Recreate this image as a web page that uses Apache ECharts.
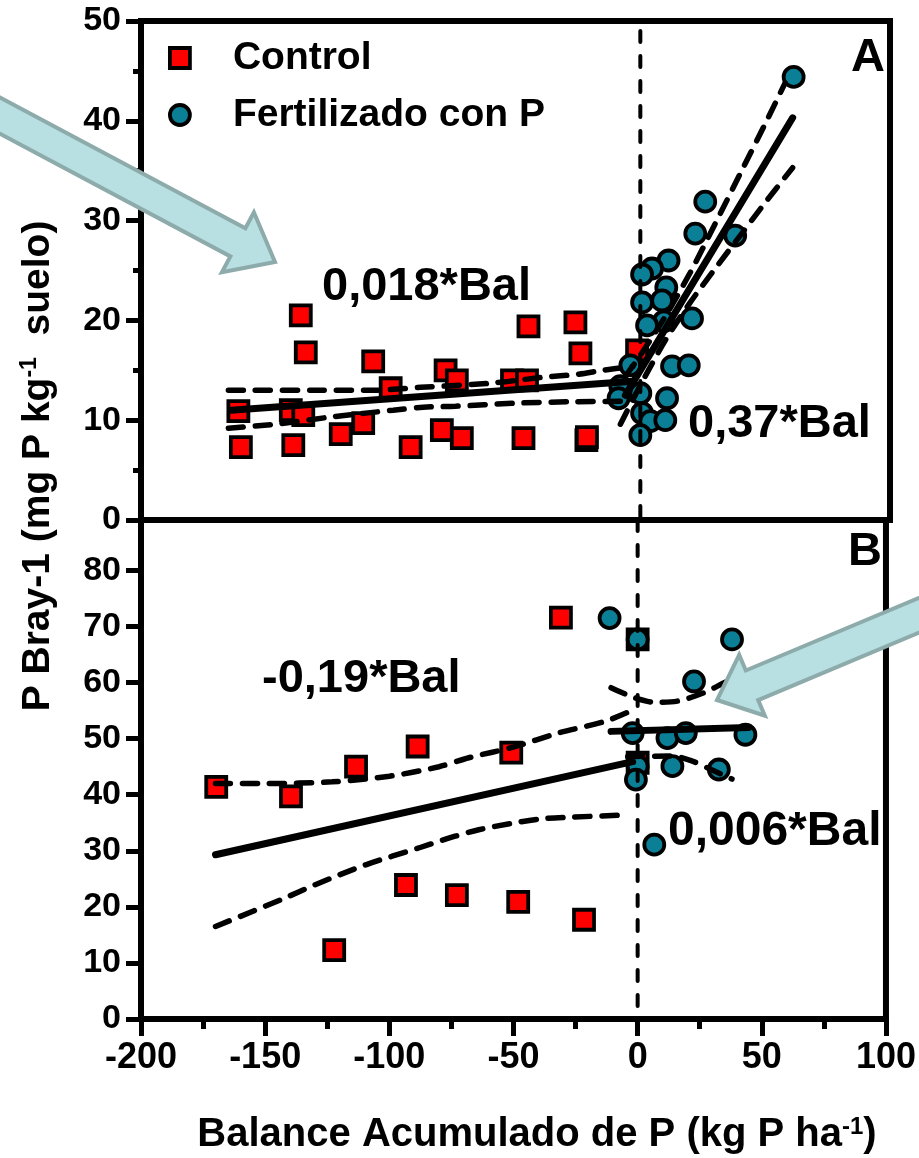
<!DOCTYPE html>
<html>
<head>
<meta charset="utf-8">
<script src="https://cdn.jsdelivr.net/npm/echarts@6/dist/echarts.min.js"></script>
<style>html,body{margin:0;padding:0;background:#fff}#c{width:919px;height:1158px}</style>
</head>
<body>
<div id="c"></div>
<script>
// ---- Panel A data (P Bray-1, mg P/kg) ----
const controlA = [[-161,10.9],[-160,7.3],[-140,11.0],[-135,10.5],[-139,7.5],[-136,20.5],[-134,16.8],[-120,8.6],[-111,9.7],[-107,15.9],[-100,13.2],[-92,7.3],[-79.5,9.0],[-78,15.0],[-73.5,14.0],[-71.5,8.2],[-51.4,14.0],[-45.4,14.0],[-44.8,19.4],[-46.8,8.2],[-26,19.8],[-24,16.7],[-21.6,8.0],[-21.4,8.3],[-1.3,17.0]];
const fertA = [[61.4,44.4],[26,31.9],[22,28.7],[38,28.5],[11.3,26.0],[4.7,25.2],[0.7,24.6],[10.4,23.3],[8.7,22.0],[0.7,21.8],[9.4,19.9],[2.7,19.5],[20.7,20.2],[-4,15.5],[12.7,15.4],[19.4,15.5],[-8,13.4],[0,12.7],[-8.7,12.2],[10.7,12.2],[0.7,10.7],[4,9.9],[10,10.0],[0,8.5]];
const ctrlFitA = [[-164,11.0],[-3,13.9]];
const ctrlUpperA = [[-165,13.0],[-130,13.0],[-107,13.0],[-88,13.3],[-60,13.7],[-39,14.3],[-25,14.6],[-15,15.0],[-3,15.4]];
const ctrlLowerA = [[-165,9.2],[-146,9.6],[-123,10.35],[-99,11.0],[-87,11.3],[-74,11.4],[-51,11.7],[-27,11.85],[-5,11.9]];
const fertFitA = [[-6,12.5],[61,40.3]];
const fertUpperA = [[-6,14.4],[0,16.5],[10,20.4],[20,24.8],[30,29.7],[40,34.7],[50,39.7],[58,43.8]];
const fertLowerA = [[-8,9.6],[0,13.5],[10,18.0],[20,21.8],[30,25.2],[40,28.5],[50,31.8],[61,35.3]];
const zeroLineA = [[0,49],[0,0]];

// ---- Panel B data ----
const controlB = [[-169.7,41.4],[-139.6,39.7],[-122.2,12.3],[-113.4,45.0],[-93.3,23.9],[-88.6,48.6],[-72.8,22.1],[-50.9,47.5],[-48.1,20.9],[-30.9,71.6],[-21.6,17.7],[0,67.7],[0,45.7]];
const fertB = [[-11.3,71.5],[0,67.7],[38,67.7],[22.7,60.2],[-2,51.0],[12,50.1],[19.4,51.0],[43.4,50.7],[0,45.1],[-0.7,42.7],[14,45.1],[32.7,44.5],[6.7,31.1]];
const ctrlFitB = [[-170,29.3],[-2,45.9]];
const ctrlUpperB = [[-170,42.0],[-150,42.0],[-123,42.3],[-100,43.3],[-80,45.0],[-68,46.6],[-50,48.5],[-32,51.0],[-13,53.1],[-3,54.9]];
const ctrlLowerB = [[-170,16.5],[-143,21.4],[-129.6,24.0],[-109.5,27.5],[-88.2,30.5],[-73.5,32.6],[-64,33.75],[-50.8,34.9],[-38.8,35.7],[-26.7,36.0],[-4,36.4]];
const fertFitB = [[-10.7,51.3],[44.8,52.0]];
const fertUpperB = [[-10.7,59.1],[-1.3,57.3],[6.7,56.5],[16,56.7],[26.7,58.2],[35,60.0],[44.8,62.0]];
const fertLowerB = [[-4,46.8],[14,46.9],[22,46.0],[30,44.4],[38,42.8]];
const zeroLineB = [[0,89],[0,0]];

// ---- axis / text ----
const xRange = [-200, 100];
const yRangeA = [0, 50];
const yRangeB = [0, 89];
const seriesNames = ['Control', 'Fertilizado con P'];
const slopeLabels = ['0,018*Bal', '0,37*Bal', '-0,19*Bal', '0,006*Bal'];

const FF = "'Liberation Sans', Arial, sans-serif";
const RED = '#ff0000', TEAL = '#0b7f96';

function scatter(name, data, gi, sym, color) {
  return {type:'scatter', name, data, xAxisIndex:gi, yAxisIndex:gi, symbol:sym, symbolSize:20, z:3,
    itemStyle:{color, borderColor:'#000', borderWidth:3.8, opacity:1}};
}
function solid(data, gi) {
  return {type:'line', data, xAxisIndex:gi, yAxisIndex:gi, showSymbol:false, symbol:'none', z:5, silent:true,
    lineStyle:{color:'#000', width:7, cap:'round'}};
}
function dashed(data, gi, w, dash, sm) {
  return {type:'line', data, xAxisIndex:gi, yAxisIndex:gi, showSymbol:false, symbol:'none', z:5, silent:true,
    smooth: sm === undefined ? 0.3 : sm,
    lineStyle:{color:'#000', width:w||5.5, type:dash||[15,12], cap:'round'}};
}

const yAxisBase = (gi, range) => ({
  gridIndex:gi, type:'value', min:range[0], max:range[1], interval:10,
  axisLine:{show:true, onZero:false, lineStyle:{color:'#000', width:6}},
  axisTick:{show:true, length:15, lineStyle:{color:'#000', width:5}},
  splitLine:{show:false},
  axisLabel:{fontSize:34, fontWeight:'bold', fontFamily:FF, color:'#000', margin:20,
    formatter: v => (v % 10 === 0 ? String(v) : '')}
});

const yA = yAxisBase(0, yRangeA);
yA.minorTick = {show:true, splitNumber:2, length:8, lineStyle:{color:'#000', width:5}};
const yB = yAxisBase(1, yRangeB);

const chart = echarts.init(document.getElementById('c'), null, {renderer:'canvas'});
const option = {
  animation:false,
  backgroundColor:'#fff',
  grid:[
    {left:141, right:29, top:21, height:499, show:true, borderColor:'#000', borderWidth:6, backgroundColor:'transparent'},
    {left:141, right:29, top:520, height:499, show:true, borderColor:'#000', borderWidth:6, backgroundColor:'transparent'}
  ],
  xAxis:[
    {gridIndex:0, type:'value', min:xRange[0], max:xRange[1], interval:50,
      axisLine:{show:false, onZero:false}, axisTick:{show:false}, axisLabel:{show:false}, splitLine:{show:false}},
    {gridIndex:1, type:'value', min:xRange[0], max:xRange[1], interval:50,
      axisLine:{show:true, onZero:false, lineStyle:{color:'#000', width:6}},
      axisTick:{show:true, length:17, lineStyle:{color:'#000', width:5}},
      minorTick:{show:true, splitNumber:2, length:10, lineStyle:{color:'#000', width:5}},
      axisLabel:{fontSize:36, fontWeight:'bold', fontFamily:FF, color:'#000', margin:21},
      splitLine:{show:false}}
  ],
  yAxis:[yA, yB],
  legend:{
    orient:'vertical', left:163, top:30, itemWidth:20, itemHeight:20, itemGap:11,
    textStyle:{fontSize:39, fontWeight:'bold', fontFamily:FF, color:'#000', lineHeight:46, padding:[0,0,0,38]},
    itemStyle:{borderColor:'#000', borderWidth:3.8},
    data:[{name:seriesNames[0], icon:'rect'}, {name:seriesNames[1], icon:'circle'}]
  },
  series:[
    scatter(seriesNames[0], controlA, 0, 'rect', RED),
    scatter(seriesNames[1], fertA, 0, 'circle', TEAL),
    solid(ctrlFitA, 0), dashed(ctrlUpperA, 0), dashed(ctrlLowerA, 0),
    solid(fertFitA, 0), dashed(fertUpperA, 0), dashed(fertLowerA, 0),
    dashed(zeroLineA, 0, 4, [11,14], 0),
    scatter(seriesNames[0], controlB, 1, 'rect', RED),
    scatter(seriesNames[1], fertB, 1, 'circle', TEAL),
    solid(ctrlFitB, 1), dashed(ctrlUpperB, 1), dashed(ctrlLowerB, 1),
    solid(fertFitB, 1), dashed(fertUpperB, 1), dashed(fertLowerB, 1),
    dashed(zeroLineB, 1, 4, [11,14], 0)
  ],
  graphic:[
    {type:'text', x:322, y:287, z:50, style:{text:slopeLabels[0], fontSize:47, fontWeight:'bold', fontFamily:FF, fill:'#000', textAlign:'left', textVerticalAlign:'middle'}},
    {type:'text', x:688, y:424, z:50, style:{text:slopeLabels[1], fontSize:47, fontWeight:'bold', fontFamily:FF, fill:'#000', textAlign:'left', textVerticalAlign:'middle'}},
    {type:'text', x:262, y:679, z:50, style:{text:slopeLabels[2], fontSize:47, fontWeight:'bold', fontFamily:FF, fill:'#000', textAlign:'left', textVerticalAlign:'middle'}},
    {type:'text', x:668, y:832, z:50, style:{text:slopeLabels[3], fontSize:48, fontWeight:'bold', fontFamily:FF, fill:'#000', textAlign:'left', textVerticalAlign:'middle'}},
    {type:'text', x:885, y:58, z:50, style:{text:'A', fontSize:47, fontWeight:'bold', fontFamily:FF, fill:'#000', textAlign:'right', textVerticalAlign:'middle'}},
    {type:'text', x:882, y:552, z:50, style:{text:'B', fontSize:47, fontWeight:'bold', fontFamily:FF, fill:'#000', textAlign:'right', textVerticalAlign:'middle'}},
    {type:'text', x:38, y:466, rotation:Math.PI/2, z:50,
      style:{text:'P Bray-1 (mg P kg{sup|-1}  suelo)', fontSize:39, fontWeight:'bold', fontFamily:FF, fill:'#000',
        textAlign:'center', textVerticalAlign:'middle',
        rich:{sup:{fontSize:23, fontWeight:'bold', fontFamily:FF, fill:'#000', verticalAlign:'top'}}}},
    {type:'text', x:537, y:1135, z:50,
      style:{text:'Balance Acumulado de P (kg P ha{sup|-1})', fontSize:40, fontWeight:'bold', fontFamily:FF, fill:'#000',
        textAlign:'center', textVerticalAlign:'middle',
        rich:{sup:{fontSize:24, fontWeight:'bold', fontFamily:FF, fill:'#000', verticalAlign:'top'}}}},
    {type:'polygon', z:100, shape:{points:[[-12.5,90.9],[245.4,228.2],[253.9,212.3],[275,262],[221.9,272.3],[230.4,256.4],[-27.5,119.1]]},
      style:{fill:'#b8dfe2', stroke:'#8eabac', lineWidth:4, lineJoin:'miter'}},
    {type:'polygon', z:100, shape:{points:[[717,700],[764.8,715.7],[758.2,700.1],[962.9,614.2],[950.5,584.6],[745.8,670.5],[739.2,654.9]]},
      style:{fill:'#b8dfe2', stroke:'#8eabac', lineWidth:4, lineJoin:'miter'}}
  ]
};
chart.setOption(option);
</script>
</body>
</html>
